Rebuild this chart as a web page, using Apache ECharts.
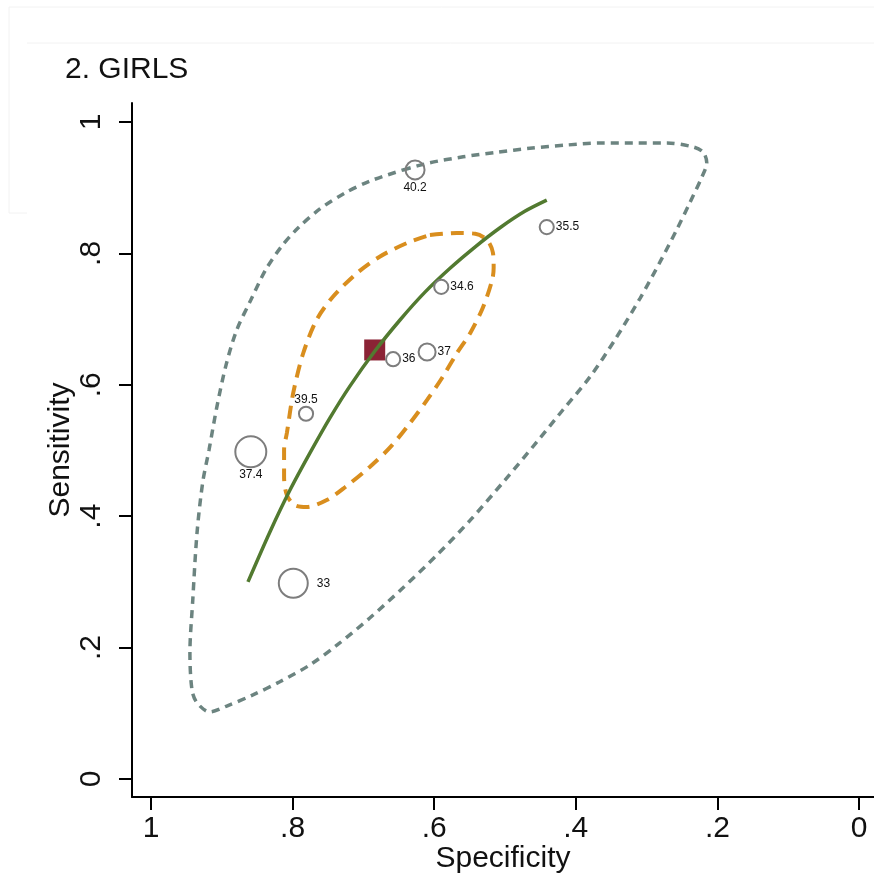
<!DOCTYPE html>
<html>
<head>
<meta charset="utf-8">
<title>2. GIRLS</title>
<script src="https://cdn.jsdelivr.net/npm/echarts@6/dist/echarts.min.js"></script>
<style>
  html, body { margin: 0; padding: 0; background: #fff; overflow: hidden; }
  #chart { width: 874px; height: 874px; }
</style>
</head>
<body>
<div id="chart"></div>
<script>
// Axis tick values (both axes)
const tickValues = [0, 0.2, 0.4, 0.6, 0.8, 1];

// Individual studies: specificity, sensitivity, label, relative weight
const studySpec   = [0.627, 0.441, 0.590, 0.658, 0.610, 0.781, 0.859, 0.799];
const studySens   = [0.927, 0.840, 0.749, 0.639, 0.650, 0.556, 0.498, 0.298];
const studyLabel  = ['40.2', '35.5', '34.6', '36', '37', '39.5', '37.4', '33'];
const studyWeight = [3.6, 2.0, 2.0, 2.0, 2.9, 2.0, 9.6, 8.4];

// Summary operating point
const summarySpec = [0.684];
const summarySens = [0.653];

// Summary ROC curve
const srocSpec = [0.863, 0.832, 0.804, 0.775, 0.747, 0.719, 0.684, 0.648,
                  0.613, 0.578, 0.542, 0.507, 0.472, 0.441];
const srocSens = [0.300, 0.376, 0.439, 0.497, 0.550, 0.598, 0.651, 0.699,
                  0.741, 0.777, 0.810, 0.839, 0.864, 0.881];

// 95% confidence region
const confSpec = [0.606, 0.568, 0.542, 0.525, 0.517, 0.516, 0.518, 0.531, 0.549, 0.568,
                  0.588, 0.610, 0.634, 0.662, 0.691, 0.726, 0.751, 0.780, 0.797, 0.808,
                  0.812, 0.812, 0.808, 0.799, 0.785, 0.766, 0.743, 0.709, 0.677, 0.638];
const confSens = [0.828, 0.831, 0.830, 0.820, 0.801, 0.778, 0.760, 0.718, 0.679, 0.648,
                  0.612, 0.577, 0.542, 0.505, 0.475, 0.444, 0.425, 0.414, 0.417, 0.432,
                  0.460, 0.501, 0.527, 0.588, 0.648, 0.699, 0.734, 0.770, 0.795, 0.816];

// 95% prediction region (clockwise, starting on the upper edge)
const predSpec = [0.644, 0.606, 0.559, 0.511, 0.465, 0.412, 0.366, 0.319, 0.271, 0.234,
                  0.220, 0.215, 0.222, 0.239, 0.257, 0.281, 0.309, 0.345, 0.380, 0.418,
                  0.455, 0.500, 0.549, 0.596, 0.644, 0.691, 0.737, 0.775, 0.818, 0.856,
                  0.893, 0.917, 0.935, 0.942, 0.945, 0.941, 0.935, 0.927, 0.918, 0.907,
                  0.894, 0.879, 0.859, 0.838, 0.816, 0.792, 0.761, 0.726, 0.691];
const predSens = [0.927, 0.938, 0.947, 0.954, 0.960, 0.965, 0.968, 0.968, 0.968, 0.962,
                  0.954, 0.938, 0.916, 0.877, 0.837, 0.787, 0.732, 0.668, 0.612, 0.562,
                  0.513, 0.455, 0.394, 0.341, 0.291, 0.245, 0.204, 0.174, 0.148, 0.128,
                  0.111, 0.102, 0.116, 0.135, 0.192, 0.272, 0.374, 0.451, 0.501, 0.566,
                  0.630, 0.683, 0.729, 0.775, 0.810, 0.839, 0.868, 0.892, 0.910];

// ---- presentation ----
const FONT = '"Liberation Sans", Arial, Helvetica, sans-serif';
const labelPlacement = [
  { position: 'bottom', distance: 1 },
  { position: 'right', distance: 1 },
  { position: 'right', distance: 1 },
  { position: 'right', distance: 1 },
  { position: 'right', distance: 1 },
  { position: 'top', distance: 0 },
  { position: 'bottom', distance: 0 },
  { position: 'right', distance: 8 }
];

function zip(xs, ys) { return xs.map((x, i) => [x, ys[i]]); }
function closed(xs, ys) { const p = zip(xs, ys); p.push(p[0].slice()); return p; }
function tickText(v) {
  if (v === 0) return '0';
  if (v === 1) return '1';
  return String(+v.toFixed(1)).replace(/^0\./, '.');
}

const studyData = studySpec.map((x, i) => ({
  value: [x, studySens[i]],
  symbolSize: 10 * Math.sqrt(studyWeight[i]),
  label: {
    show: true,
    formatter: studyLabel[i],
    position: labelPlacement[i].position,
    distance: labelPlacement[i].distance
  }
}));

const chart = echarts.init(document.getElementById('chart'), null, { renderer: 'canvas' });

chart.setOption({
  animation: false,
  backgroundColor: '#ffffff',
  title: {
    text: '2. GIRLS',
    left: 60,
    top: 50,
    textStyle: { fontFamily: FONT, fontSize: 30, fontWeight: 'normal', color: '#111' }
  },
  graphic: [
    { type: 'line', shape: { x1: 9, y1: 7, x2: 874, y2: 7 }, style: { stroke: '#f2f2f2', lineWidth: 1 } },
    { type: 'line', shape: { x1: 27, y1: 43, x2: 874, y2: 43 }, style: { stroke: '#f2f2f2', lineWidth: 1 } },
    { type: 'line', shape: { x1: 9, y1: 7, x2: 9, y2: 213 }, style: { stroke: '#f2f2f2', lineWidth: 1 } },
    { type: 'line', shape: { x1: 9, y1: 213, x2: 27, y2: 213 }, style: { stroke: '#f2f2f2', lineWidth: 1 } }
  ],
  grid: { left: 132, top: 103, right: 0, bottom: 77, containLabel: false, outerBoundsMode: 'none' },
  xAxis: {
    type: 'value',
    inverse: true,
    min: -0.0212,
    max: 1.0268,
    name: 'Specificity',
    nameLocation: 'middle',
    nameGap: 47,
    nameMoveOverlap: false,
    nameTextStyle: { fontFamily: FONT, fontSize: 30, color: '#111' },
    axisLine: { show: true, onZero: false, lineStyle: { color: '#000', width: 2 } },
    axisTick: { show: true, length: 13, customValues: tickValues, lineStyle: { color: '#000', width: 2 } },
    axisLabel: {
      customValues: tickValues,
      formatter: tickText,
      fontFamily: FONT, fontSize: 30, color: '#111', margin: 17
    },
    splitLine: { show: false }
  },
  yAxis: {
    type: 'value',
    min: -0.0274,
    max: 1.0289,
    name: 'Sensitivity',
    nameLocation: 'middle',
    nameGap: 56,
    nameRotate: 90,
    nameMoveOverlap: false,
    nameTextStyle: { fontFamily: FONT, fontSize: 30, color: '#111' },
    axisLine: { show: true, onZero: false, lineStyle: { color: '#000', width: 2 } },
    axisTick: { show: true, length: 13, customValues: tickValues, lineStyle: { color: '#000', width: 2 } },
    axisLabel: {
      customValues: tickValues,
      formatter: tickText,
      rotate: 90,
      fontFamily: FONT, fontSize: 30, color: '#111', margin: 25
    },
    splitLine: { show: false }
  },
  series: [
    {
      name: 'Prediction region',
      type: 'line',
      data: closed(predSpec, predSens),
      smooth: 0.3,
      showSymbol: false,
      lineStyle: { color: '#6c8480', width: 3.5, type: [8, 6] },
      z: 2
    },
    {
      name: 'Confidence region',
      type: 'line',
      data: closed(confSpec, confSens),
      smooth: 0.3,
      showSymbol: false,
      lineStyle: { color: '#d98e1e', width: 4, type: [13, 8] },
      z: 3
    },
    {
      name: 'Summary point',
      type: 'scatter',
      data: zip(summarySpec, summarySens),
      symbol: 'rect',
      symbolSize: 21,
      itemStyle: { color: '#8b2335', opacity: 1 },
      z: 4
    },
    {
      name: 'SROC curve',
      type: 'line',
      data: zip(srocSpec, srocSens),
      smooth: 0.3,
      showSymbol: false,
      lineStyle: { color: '#527a30', width: 3.5 },
      z: 5
    },
    {
      name: 'Study estimates',
      type: 'scatter',
      data: studyData,
      symbol: 'circle',
      itemStyle: { color: 'rgba(255,255,255,0)', borderColor: '#7d7d7d', borderWidth: 2, opacity: 1 },
      label: { fontFamily: FONT, fontSize: 12, color: '#111' },
      z: 6
    }
  ]
});
</script>
</body>
</html>
